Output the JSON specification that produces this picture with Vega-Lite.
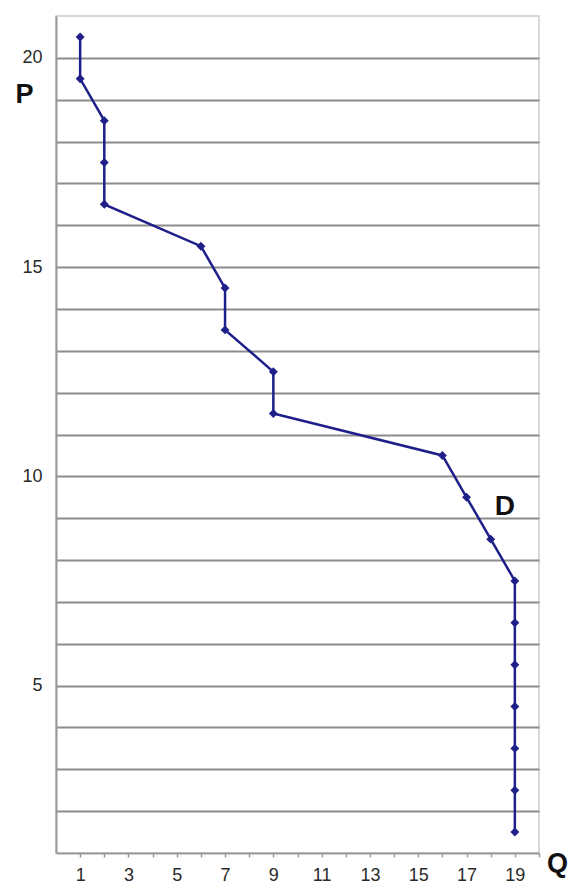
{
  "$schema": "https://vega.github.io/schema/vega-lite/v6.json",
  "width": 483,
  "height": 837,
  "autosize": {"type": "none"},
  "padding": {"left": 56, "top": 16, "right": 30, "bottom": 35},
  "background": "white",
  "config": {
    "view": {"stroke": "#cccccc", "strokeWidth": 1.5},
    "font": "Liberation Sans"
  },
  "data": {
    "values": [
      {"P": 20.5, "Q": 1},
      {"P": 19.5, "Q": 1},
      {"P": 18.5, "Q": 2},
      {"P": 17.5, "Q": 2},
      {"P": 16.5, "Q": 2},
      {"P": 15.5, "Q": 6},
      {"P": 14.5, "Q": 7},
      {"P": 13.5, "Q": 7},
      {"P": 12.5, "Q": 9},
      {"P": 11.5, "Q": 9},
      {"P": 10.5, "Q": 16},
      {"P": 9.5, "Q": 17},
      {"P": 8.5, "Q": 18},
      {"P": 7.5, "Q": 19},
      {"P": 6.5, "Q": 19},
      {"P": 5.5, "Q": 19},
      {"P": 4.5, "Q": 19},
      {"P": 3.5, "Q": 19},
      {"P": 2.5, "Q": 19},
      {"P": 1.5, "Q": 19}
    ]
  },
  "encoding": {
    "x": {
      "field": "Q",
      "type": "quantitative",
      "scale": {"domain": [0, 20], "nice": false, "zero": false},
      "axis": {
        "title": "Q",
        "titleAngle": 0,
        "titleX": 501,
        "titleY": 10,
        "titleBaseline": "middle",
        "titleAlign": "center",
        "titleFontSize": 27,
        "titleFontWeight": "bold",
        "titleColor": "#111111",
        "values": [1, 2, 3, 4, 5, 6, 7, 8, 9, 10, 11, 12, 13, 14, 15, 16, 17, 18, 19, 20],
        "labelExpr": "datum.value % 2 == 1 ? datum.label : ''",
        "labelFontSize": 18,
        "labelColor": "#2a2a2a",
        "labelPadding": 9,
        "labelFlush": false,
        "labelOverlap": false,
        "tickSize": 4,
        "tickColor": "#999999",
        "tickWidth": 1.5,
        "domainColor": "#999999",
        "domainWidth": 2,
        "grid": false
      }
    },
    "y": {
      "field": "P",
      "type": "quantitative",
      "scale": {"domain": [1, 21], "nice": false, "zero": false},
      "axis": {
        "title": "P",
        "titleAngle": 0,
        "titleX": -32,
        "titleY": 78,
        "titleBaseline": "middle",
        "titleAlign": "center",
        "titleFontSize": 27,
        "titleFontWeight": "bold",
        "titleColor": "#111111",
        "values": [2, 3, 4, 5, 6, 7, 8, 9, 10, 11, 12, 13, 14, 15, 16, 17, 18, 19, 20],
        "labelExpr": "datum.value % 5 == 0 ? datum.label : ''",
        "labelFontSize": 18,
        "labelColor": "#2a2a2a",
        "labelPadding": 14,
        "labelOverlap": false,
        "ticks": false,
        "domainColor": "#999999",
        "domainWidth": 2,
        "grid": true,
        "gridColor": "#8c8c8c",
        "gridWidth": 2
      }
    }
  },
  "layer": [
    {
      "mark": {"type": "line", "color": "#1f1f8a", "strokeWidth": 2.5},
      "encoding": {
        "order": {"field": "P", "type": "quantitative", "sort": "descending"}
      }
    },
    {
      "mark": {"type": "point", "shape": "diamond", "filled": true, "color": "#1f1f8a", "size": 80, "opacity": 1}
    },
    {
      "data": {"values": [{"Q": 18.59, "P": 9.27, "label": "D"}]},
      "mark": {"type": "text", "fontSize": 28, "fontWeight": "bold", "color": "#111111", "align": "center", "baseline": "middle"},
      "encoding": {"text": {"field": "label"}}
    }
  ]
}
